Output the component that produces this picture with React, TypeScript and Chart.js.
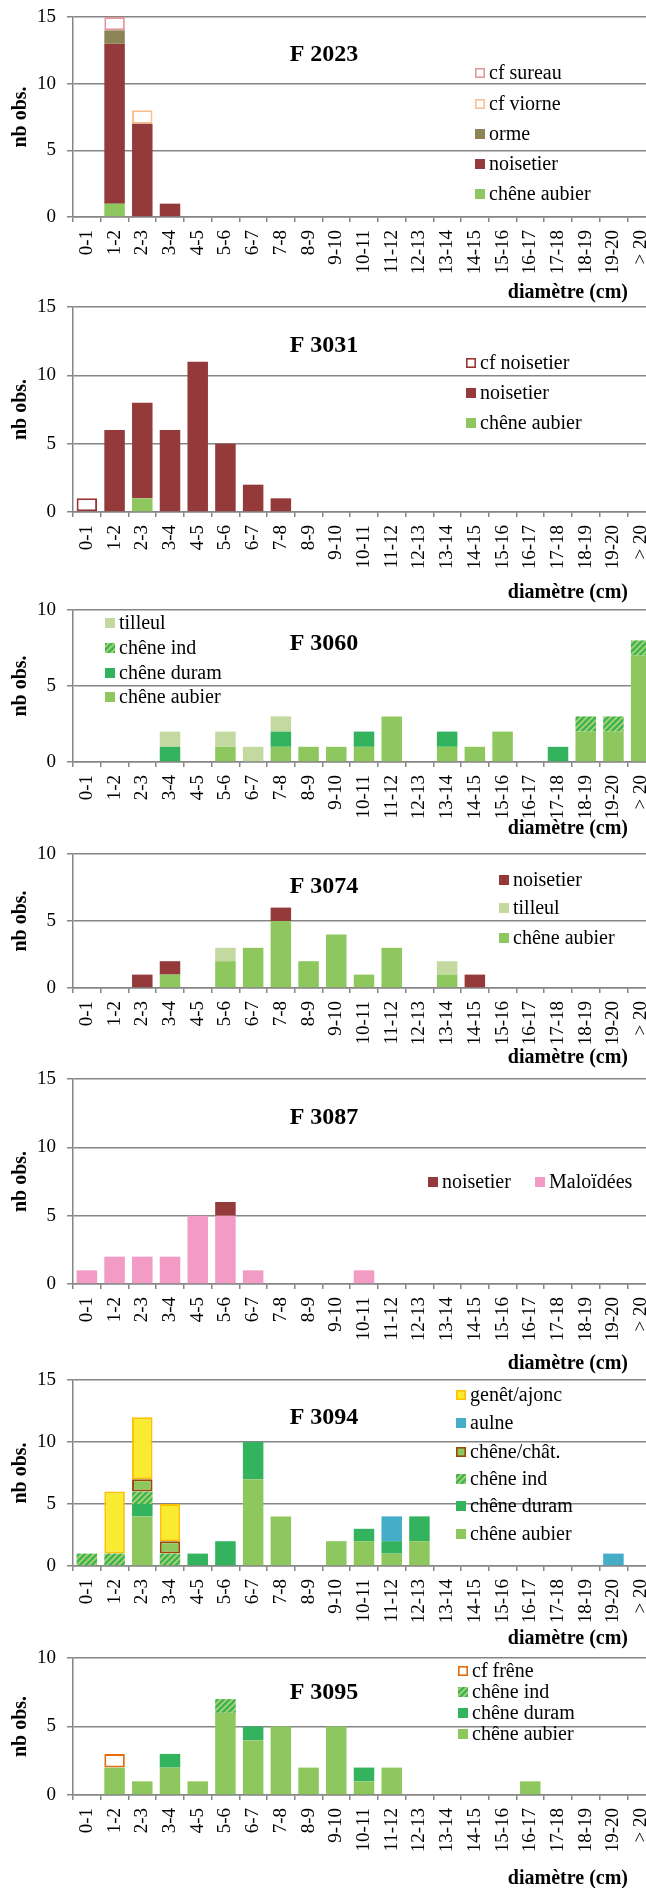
import React, { useEffect, useRef } from 'react';
import { Chart, registerables } from 'chart.js';

Chart.register(...registerables);

// ---------- DATA ----------
const CATEGORIES = ['0-1', '1-2', '2-3', '3-4', '4-5', '5-6', '6-7', '7-8', '8-9', '9-10', '10-11', '11-12', '12-13', '13-14', '14-15', '15-16', '16-17', '17-18', '18-19', '19-20', '> 20'];

// F 2023
const F2023_CHENE_AUBIER = [0, 1, 0, 0, 0, 0, 0, 0, 0, 0, 0, 0, 0, 0, 0, 0, 0, 0, 0, 0, 0];
const F2023_NOISETIER = [0, 12, 7, 1, 0, 0, 0, 0, 0, 0, 0, 0, 0, 0, 0, 0, 0, 0, 0, 0, 0];
const F2023_ORME = [0, 1, 0, 0, 0, 0, 0, 0, 0, 0, 0, 0, 0, 0, 0, 0, 0, 0, 0, 0, 0];
const F2023_CF_VIORNE = [0, 0, 1, 0, 0, 0, 0, 0, 0, 0, 0, 0, 0, 0, 0, 0, 0, 0, 0, 0, 0];
const F2023_CF_SUREAU = [0, 1, 0, 0, 0, 0, 0, 0, 0, 0, 0, 0, 0, 0, 0, 0, 0, 0, 0, 0, 0];

// F 3031
const F3031_CHENE_AUBIER = [0, 0, 1, 0, 0, 0, 0, 0, 0, 0, 0, 0, 0, 0, 0, 0, 0, 0, 0, 0, 0];
const F3031_NOISETIER = [0, 6, 7, 6, 11, 5, 2, 1, 0, 0, 0, 0, 0, 0, 0, 0, 0, 0, 0, 0, 0];
const F3031_CF_NOISETIER = [1, 0, 0, 0, 0, 0, 0, 0, 0, 0, 0, 0, 0, 0, 0, 0, 0, 0, 0, 0, 0];

// F 3060
const F3060_CHENE_AUBIER = [0, 0, 0, 0, 0, 1, 0, 1, 1, 1, 1, 3, 0, 1, 1, 2, 0, 0, 2, 2, 7];
const F3060_CHENE_DURAM = [0, 0, 0, 1, 0, 0, 0, 1, 0, 0, 1, 0, 0, 1, 0, 0, 0, 1, 0, 0, 0];
const F3060_CHENE_IND = [0, 0, 0, 0, 0, 0, 0, 0, 0, 0, 0, 0, 0, 0, 0, 0, 0, 0, 1, 1, 1];
const F3060_TILLEUL = [0, 0, 0, 1, 0, 1, 1, 1, 0, 0, 0, 0, 0, 0, 0, 0, 0, 0, 0, 0, 0];

// F 3074
const F3074_CHENE_AUBIER = [0, 0, 0, 1, 0, 2, 3, 5, 2, 4, 1, 3, 0, 1, 0, 0, 0, 0, 0, 0, 0];
const F3074_TILLEUL = [0, 0, 0, 0, 0, 1, 0, 0, 0, 0, 0, 0, 0, 1, 0, 0, 0, 0, 0, 0, 0];
const F3074_NOISETIER = [0, 0, 1, 1, 0, 0, 0, 1, 0, 0, 0, 0, 0, 0, 1, 0, 0, 0, 0, 0, 0];

// F 3087
const F3087_MALOIDEES = [1, 2, 2, 2, 5, 5, 1, 0, 0, 0, 1, 0, 0, 0, 0, 0, 0, 0, 0, 0, 0];
const F3087_NOISETIER = [0, 0, 0, 0, 0, 1, 0, 0, 0, 0, 0, 0, 0, 0, 0, 0, 0, 0, 0, 0, 0];

// F 3094
const F3094_CHENE_AUBIER = [0, 0, 4, 0, 0, 0, 7, 4, 0, 2, 2, 1, 2, 0, 0, 0, 0, 0, 0, 0, 0];
const F3094_CHENE_DURAM = [0, 0, 1, 0, 1, 2, 3, 0, 0, 0, 1, 1, 2, 0, 0, 0, 0, 0, 0, 0, 0];
const F3094_CHENE_IND = [1, 1, 1, 1, 0, 0, 0, 0, 0, 0, 0, 0, 0, 0, 0, 0, 0, 0, 0, 0, 0];
const F3094_CHENE_CHAT = [0, 0, 1, 1, 0, 0, 0, 0, 0, 0, 0, 0, 0, 0, 0, 0, 0, 0, 0, 0, 0];
const F3094_AULNE = [0, 0, 0, 0, 0, 0, 0, 0, 0, 0, 0, 2, 0, 0, 0, 0, 0, 0, 0, 1, 0];
const F3094_GENET_AJONC = [0, 5, 5, 3, 0, 0, 0, 0, 0, 0, 0, 0, 0, 0, 0, 0, 0, 0, 0, 0, 0];

// F 3095
const F3095_CHENE_AUBIER = [0, 2, 1, 2, 1, 6, 4, 5, 2, 5, 1, 2, 0, 0, 0, 0, 1, 0, 0, 0, 0];
const F3095_CHENE_DURAM = [0, 0, 0, 1, 0, 0, 1, 0, 0, 0, 1, 0, 0, 0, 0, 0, 0, 0, 0, 0, 0];
const F3095_CHENE_IND = [0, 0, 0, 0, 0, 1, 0, 0, 0, 0, 0, 0, 0, 0, 0, 0, 0, 0, 0, 0, 0];
const F3095_CF_FRENE = [0, 1, 0, 0, 0, 0, 0, 0, 0, 0, 0, 0, 0, 0, 0, 0, 0, 0, 0, 0, 0];

// ---------- STYLES ----------
const GRAY = '#868686';
const FONT = '"Liberation Serif", "Times New Roman", serif';
const CANVAS_W = 655;
const Y_AXIS_W = 73;
const PAD_TOP = 14;
const TITLE_X = 324;
const DIAM_RIGHT = 628;

type Style = { fill?: string; border?: string; bw?: number; hatch?: boolean };
const STYLES: Record<string, Style> = {
  aubier: { fill: '#8FC75F' },
  duram: { fill: '#33B35E' },
  ind: { hatch: true },
  tilleul: { fill: '#C3D9A0' },
  noisetier: { fill: '#953A3A' },
  orme: { fill: '#8C8456' },
  maloidees: { fill: '#F29BC5' },
  aulne: { fill: '#46ADC9' },
  genet: { fill: '#F9EC30', border: '#FFC000', bw: 2 },
  chat: { fill: '#8FC75F', border: '#984807', bw: 2 },
  cfSureau: { fill: '#FFFFFF', border: '#E2989B', bw: 2 },
  cfViorne: { fill: '#FFFFFF', border: '#FABF8F', bw: 2 },
  cfNoisetier: { fill: '#FFFFFF', border: '#953735', bw: 2 },
  cfFrene: { fill: '#FFFFFF', border: '#E46C0A', bw: 2 },
};

type Series = { label: string; values: number[]; style: string };
type Panel = {
  title: string;
  yMax: number;
  plotTop: number;
  plotBottom: number;
  titleY: number;
  diamY: number;
  series: Series[];
  legend: [string, number, number][];
};

const PANELS: Panel[] = [
  {
    title: 'F 2023', yMax: 15, plotTop: 17, plotBottom: 217, titleY: 55, diamY: 293,
    series: [
      { label: 'chêne aubier', values: F2023_CHENE_AUBIER, style: 'aubier' },
      { label: 'noisetier', values: F2023_NOISETIER, style: 'noisetier' },
      { label: 'orme', values: F2023_ORME, style: 'orme' },
      { label: 'cf viorne', values: F2023_CF_VIORNE, style: 'cfViorne' },
      { label: 'cf sureau', values: F2023_CF_SUREAU, style: 'cfSureau' },
    ],
    legend: [['cf sureau', 475, 73], ['cf viorne', 475, 104], ['orme', 475, 134], ['noisetier', 475, 164], ['chêne aubier', 475, 194]],
  },
  {
    title: 'F 3031', yMax: 15, plotTop: 307, plotBottom: 512, titleY: 346, diamY: 593,
    series: [
      { label: 'chêne aubier', values: F3031_CHENE_AUBIER, style: 'aubier' },
      { label: 'noisetier', values: F3031_NOISETIER, style: 'noisetier' },
      { label: 'cf noisetier', values: F3031_CF_NOISETIER, style: 'cfNoisetier' },
    ],
    legend: [['cf noisetier', 466, 363], ['noisetier', 466, 393], ['chêne aubier', 466, 423]],
  },
  {
    title: 'F 3060', yMax: 10, plotTop: 610, plotBottom: 762, titleY: 644, diamY: 829,
    series: [
      { label: 'chêne aubier', values: F3060_CHENE_AUBIER, style: 'aubier' },
      { label: 'chêne duram', values: F3060_CHENE_DURAM, style: 'duram' },
      { label: 'chêne ind', values: F3060_CHENE_IND, style: 'ind' },
      { label: 'tilleul', values: F3060_TILLEUL, style: 'tilleul' },
    ],
    legend: [['tilleul', 105, 623], ['chêne ind', 105, 648], ['chêne duram', 105, 673], ['chêne aubier', 105, 697]],
  },
  {
    title: 'F 3074', yMax: 10, plotTop: 854, plotBottom: 988, titleY: 887, diamY: 1058,
    series: [
      { label: 'chêne aubier', values: F3074_CHENE_AUBIER, style: 'aubier' },
      { label: 'tilleul', values: F3074_TILLEUL, style: 'tilleul' },
      { label: 'noisetier', values: F3074_NOISETIER, style: 'noisetier' },
    ],
    legend: [['noisetier', 499, 880], ['tilleul', 499, 908], ['chêne aubier', 499, 938]],
  },
  {
    title: 'F 3087', yMax: 15, plotTop: 1079, plotBottom: 1284, titleY: 1118, diamY: 1364,
    series: [
      { label: 'Maloïdées', values: F3087_MALOIDEES, style: 'maloidees' },
      { label: 'noisetier', values: F3087_NOISETIER, style: 'noisetier' },
    ],
    legend: [['noisetier', 428, 1182], ['Maloïdées', 535, 1182]],
  },
  {
    title: 'F 3094', yMax: 15, plotTop: 1380, plotBottom: 1566, titleY: 1418, diamY: 1639,
    series: [
      { label: 'chêne aubier', values: F3094_CHENE_AUBIER, style: 'aubier' },
      { label: 'chêne duram', values: F3094_CHENE_DURAM, style: 'duram' },
      { label: 'chêne ind', values: F3094_CHENE_IND, style: 'ind' },
      { label: 'chêne/chât.', values: F3094_CHENE_CHAT, style: 'chat' },
      { label: 'aulne', values: F3094_AULNE, style: 'aulne' },
      { label: 'genêt/ajonc', values: F3094_GENET_AJONC, style: 'genet' },
    ],
    legend: [['genêt/ajonc', 456, 1395], ['aulne', 456, 1423], ['chêne/chât.', 456, 1452], ['chêne ind', 456, 1479], ['chêne duram', 456, 1506], ['chêne aubier', 456, 1534]],
  },
  {
    title: 'F 3095', yMax: 10, plotTop: 1658, plotBottom: 1795, titleY: 1693, diamY: 1879,
    series: [
      { label: 'chêne aubier', values: F3095_CHENE_AUBIER, style: 'aubier' },
      { label: 'chêne duram', values: F3095_CHENE_DURAM, style: 'duram' },
      { label: 'chêne ind', values: F3095_CHENE_IND, style: 'ind' },
      { label: 'cf frêne', values: F3095_CF_FRENE, style: 'cfFrene' },
    ],
    legend: [['cf frêne', 458, 1671], ['chêne ind', 458, 1692], ['chêne duram', 458, 1713], ['chêne aubier', 458, 1734]],
  },
];

function makeHatch(): CanvasPattern | string {
  const c = document.createElement('canvas');
  c.width = 6;
  c.height = 6;
  const g = c.getContext('2d');
  if (!g) return '#33B35E';
  g.fillStyle = '#35B25C';
  g.fillRect(0, 0, 6, 6);
  g.strokeStyle = '#A6D166';
  g.lineWidth = 2;
  g.beginPath();
  g.moveTo(-1, 7); g.lineTo(7, -1);
  g.moveTo(-4, 4); g.lineTo(4, -4);
  g.moveTo(2, 10); g.lineTo(10, 2);
  g.stroke();
  return g.createPattern(c, 'repeat') || '#33B35E';
}

function PanelChart({ cfg }: { cfg: Panel }) {
  const ref = useRef<HTMLCanvasElement>(null);
  const canvasTop = cfg.plotTop - PAD_TOP;
  const xAxisH = cfg.diamY - cfg.plotBottom + 16;
  const height = PAD_TOP + (cfg.plotBottom - cfg.plotTop) + xAxisH;

  useEffect(() => {
    if (!ref.current) return;
    const hatch = makeHatch();
    const fillOf = (st: Style) => (st.hatch ? hatch : st.fill);

    const datasets = cfg.series.map((s) => {
      const st = STYLES[s.style];
      return {
        label: s.label,
        data: s.values.map((v) => (v === 0 ? null : v)),
        backgroundColor: fillOf(st) as any,
        borderColor: st.border || 'rgba(0,0,0,0)',
        borderWidth: st.border ? st.bw : 0,
        borderSkipped: false as any,
        categoryPercentage: 1,
        barPercentage: 0.74,
        stack: 'all',
      };
    });

    const overlay = {
      id: 'overlay',
      afterDraw(chart: any) {
        const ctx = chart.ctx as CanvasRenderingContext2D;
        ctx.save();
        ctx.fillStyle = '#000';
        ctx.textBaseline = 'middle';
        ctx.font = `bold 24px ${FONT}`;
        ctx.textAlign = 'center';
        ctx.fillText(cfg.title, TITLE_X, cfg.titleY - canvasTop);
        ctx.font = `bold 20px ${FONT}`;
        ctx.textAlign = 'right';
        ctx.fillText('diamètre (cm)', DIAM_RIGHT, cfg.diamY - canvasTop);

        ctx.font = `20px ${FONT}`;
        ctx.textAlign = 'left';
        for (const [label, x, y] of cfg.legend) {
          const s = cfg.series.find((q) => q.label === label);
          if (!s) continue;
          const st = STYLES[s.style];
          const yy = y - canvasTop;
          const box = 10;
          ctx.fillStyle = fillOf(st) as any;
          ctx.fillRect(x, yy - box / 2, box, box);
          if (st.border) {
            ctx.strokeStyle = st.border;
            ctx.lineWidth = 1.6;
            ctx.strokeRect(x + 0.8, yy - box / 2 + 0.8, box - 1.6, box - 1.6);
          }
          ctx.fillStyle = '#000';
          ctx.fillText(label, x + box + 4, yy + 1);
        }
        ctx.restore();
      },
    };

    const chart = new Chart(ref.current, {
      type: 'bar',
      data: { labels: CATEGORIES, datasets: datasets as any },
      options: {
        animation: false,
        responsive: false,
        maintainAspectRatio: false,
        devicePixelRatio: 1,
        layout: { padding: { top: PAD_TOP, left: 0, right: 0, bottom: 0 } },
        plugins: { legend: { display: false }, tooltip: { enabled: false }, title: { display: false } },
        scales: {
          x: {
            stacked: true,
            offset: true,
            grid: { offset: true, drawOnChartArea: false, drawTicks: true, tickLength: 5, color: GRAY, lineWidth: 1.5 },
            border: { display: true, color: GRAY, width: 1.5 },
            ticks: {
              autoSkip: false,
              minRotation: 90,
              maxRotation: 90,
              padding: 8,
              color: '#000',
              font: { family: FONT, size: 19 },
            },
            afterFit: (axis: any) => {
              axis.height = xAxisH;
              axis.paddingLeft = 0;
              axis.paddingRight = 0;
            },
          },
          y: {
            stacked: true,
            min: 0,
            max: cfg.yMax,
            ticks: { stepSize: 5, padding: 11, color: '#000', font: { family: FONT, size: 19 } },
            grid: { color: GRAY, lineWidth: 1.5, drawTicks: true, tickLength: 6 },
            border: { display: true, color: GRAY, width: 1.5 },
            title: {
              display: true,
              text: 'nb obs.',
              color: '#000',
              font: { family: FONT, size: 20, weight: 'bold' },
              padding: { top: 9, bottom: 0 },
            },
            afterFit: (axis: any) => {
              axis.width = Y_AXIS_W;
              axis.paddingTop = 0;
              axis.paddingBottom = 0;
            },
          },
        },
      },
      plugins: [overlay],
    });
    return () => chart.destroy();
  }, []);

  return (
    <canvas
      ref={ref}
      width={CANVAS_W}
      height={height}
      style={{ position: 'absolute', left: 0, top: canvasTop, width: CANVAS_W, height }}
    />
  );
}

export default function App() {
  return (
    <div style={{ position: 'absolute', left: 0, top: 0, width: 646, height: 1888, overflow: 'hidden', background: '#fff' }}>
      {PANELS.map((p, i) => (
        <PanelChart key={i} cfg={p} />
      ))}
    </div>
  );
}
